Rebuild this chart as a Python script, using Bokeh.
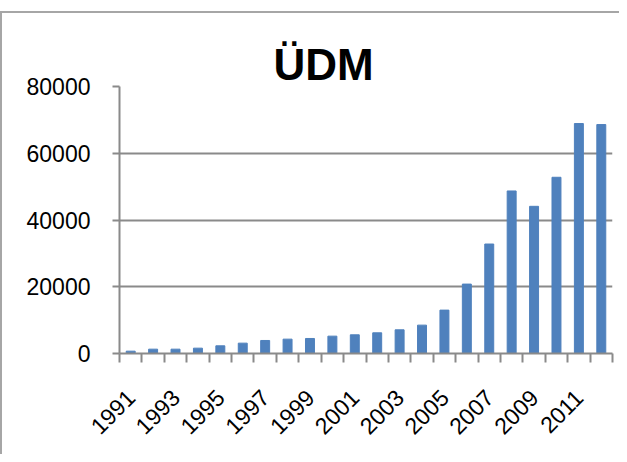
from bokeh.plotting import figure
from bokeh.models import Range1d, FixedTicker, BasicTickFormatter
from bokeh.embed import file_html
from bokeh.resources import INLINE
import math

years = list(range(1991, 2013))
values = [700, 1300, 1300, 1600, 2300, 3100, 3900, 4300, 4500, 5200, 5600,
          6200, 7100, 8500, 13000, 20800, 32800, 48700, 44100, 52800, 68900, 68600]
label_years = list(range(1991, 2013, 2))
y_ticks = [0, 20000, 40000, 60000, 80000]

W, H = 619, 443
p = figure(width=W, height=H, output_backend="svg", toolbar_location=None,
           x_range=Range1d(1990.5, 2012.5), y_range=Range1d(0, 80000),
           min_border_left=117, min_border_right=9, min_border_top=73,
           min_border_bottom=103)
p.styles = {"border-left": "2px solid #a6a6a6", "border-top": "2px solid #a6a6a6",
            "margin-top": "11px"}

p.title.text = "ÜDM"
p.title.text_font = "Liberation Sans"
p.title.text_font_size = "44px"
p.title.text_font_style = "bold"
p.title.text_color = "black"
p.title.align = "left"
p.title.offset = 154
p.title.standoff = -5

p.vbar(x=years, top=values, width=0.4, color="#4F81BD")

p.outline_line_color = None
p.xgrid.grid_line_color = None
p.ygrid.grid_line_color = "#8a8a8a"
p.ygrid.grid_line_width = 2
p.ygrid.ticker = FixedTicker(ticks=y_ticks)

ya = p.yaxis[0]
ya.ticker = FixedTicker(ticks=y_ticks)
ya.formatter = BasicTickFormatter(use_scientific=False)
ya.axis_line_color = "#8a8a8a"
ya.axis_line_width = 2
ya.major_tick_line_color = "#8a8a8a"
ya.major_tick_line_width = 2
ya.major_tick_out = 7
ya.major_tick_in = 0
ya.minor_tick_line_color = None
ya.major_label_standoff = 22
ya.major_label_text_font = "Liberation Sans"
ya.major_label_text_font_size = "23px"
ya.major_label_text_color = "black"

xa = p.xaxis[0]
xa.ticker = FixedTicker(ticks=label_years, minor_ticks=[y - 0.5 for y in years] + [2012.5])
xa.axis_line_color = "#8a8a8a"
xa.axis_line_width = 2
xa.major_tick_line_color = None
xa.major_tick_out = 0
xa.major_tick_in = 0
xa.minor_tick_line_color = "#8a8a8a"
xa.minor_tick_line_width = 2
xa.minor_tick_out = 9
xa.minor_tick_in = 0
xa.major_label_orientation = math.pi / 4
xa.major_label_standoff = 31
xa.major_label_text_font = "Liberation Sans"
xa.major_label_text_font_size = "23px"
xa.major_label_text_color = "black"

open("out.html", "w").write(file_html(p, INLINE))
